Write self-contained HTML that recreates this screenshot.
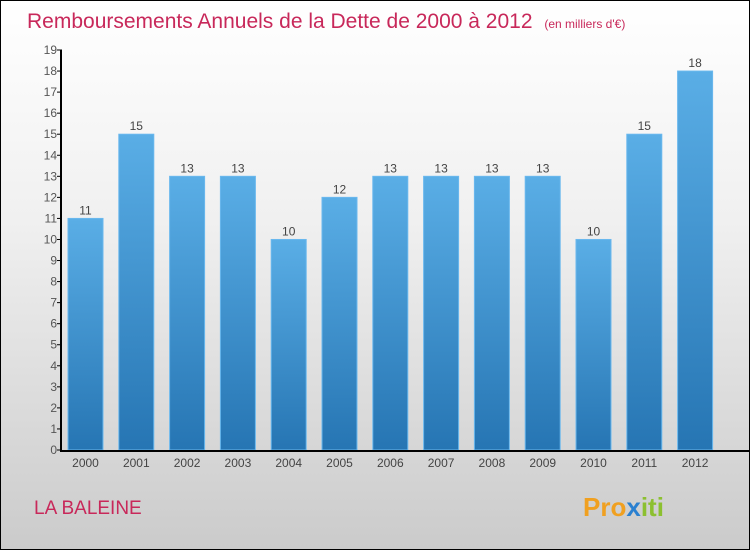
<!DOCTYPE html>
<html><head><meta charset="utf-8"><style>
body{margin:0;}
#c{width:748px;height:548px;border:1px solid #000;background:linear-gradient(#fff,#f0f0f0 40%,#cbcbcb);position:relative;overflow:hidden;font-family:"Liberation Sans",sans-serif;}
</style></head><body>
<div id="c">
<svg width="748" height="548" id="svg">
<defs><linearGradient id="bg" x1="0" y1="0" x2="0" y2="1"><stop offset="0" stop-color="#5aaee6"/><stop offset="1" stop-color="#2675b3"/></linearGradient></defs>
<text x="26" y="27" font-size="21" fill="#c8285a">Remboursements Annuels de la Dette de 2000 à 2012 <tspan font-size="12" dx="6">(en milliers d'€)</tspan></text>
<text x="33" y="513" font-size="19" fill="#c8285a">LA BALEINE</text>
<text x="582" y="515" font-size="26" font-weight="bold"><tspan fill="#f0a020">Pro</tspan><tspan fill="#2a80d0">x</tspan><tspan fill="#8cc030">iti</tspan></text>
<g id="g"></g>
</svg>
</div>
<script>
const categories=["2000","2001","2002","2003","2004","2005","2006","2007","2008","2009","2010","2011","2012"];
const values=[11,15,13,13,10,12,13,13,13,13,10,15,18];
const yTicks=[0,1,2,3,4,5,6,7,8,9,10,11,12,13,14,15,16,17,18,19];
const ns="http://www.w3.org/2000/svg",g=document.getElementById("g");
const y0=449,yTop=49,yMax=19;
function y(v){return y0-(y0-yTop)*v/yMax;}
function x(i){return 67+i*50.8;}
const bw=35;
function mk(t,a,txt){const e=document.createElementNS(ns,t);for(const k in a)e.setAttribute(k,a[k]);if(txt!==undefined)e.textContent=txt;g.appendChild(e);return e;}
values.forEach((v,i)=>{
 const r=mk("rect",{x:x(i),y:y(v),width:bw,height:y0-y(v),fill:"url(#bg)",stroke:"#6ab8ee","stroke-width":1});
 
 
 const t=mk("text",{x:x(i)+bw/2,y:y(v)-4,"text-anchor":"middle","font-size":12,fill:"#444"},String(v));
 
 
 const c=mk("text",{x:x(i)+bw/2,y:466,"text-anchor":"middle","font-size":12,fill:"#444"},categories[i]);
 
 
});
yTicks.forEach(v=>{
 const l=mk("line",{x1:56,x2:61,y1:y(v),y2:y(v),stroke:"#000"});
 
 
 const t=mk("text",{x:56,y:y(v)+4,"text-anchor":"end","font-size":12,fill:"#555"},String(v));
 
 
});
const ya=mk("line",{x1:60,x2:60,y1:yTop,y2:y0+1,stroke:"#000","stroke-width":2});


const xa=mk("line",{x1:59,x2:748,y1:y0+1,y2:y0+1,stroke:"#000","stroke-width":2});


</script>
</body></html>
